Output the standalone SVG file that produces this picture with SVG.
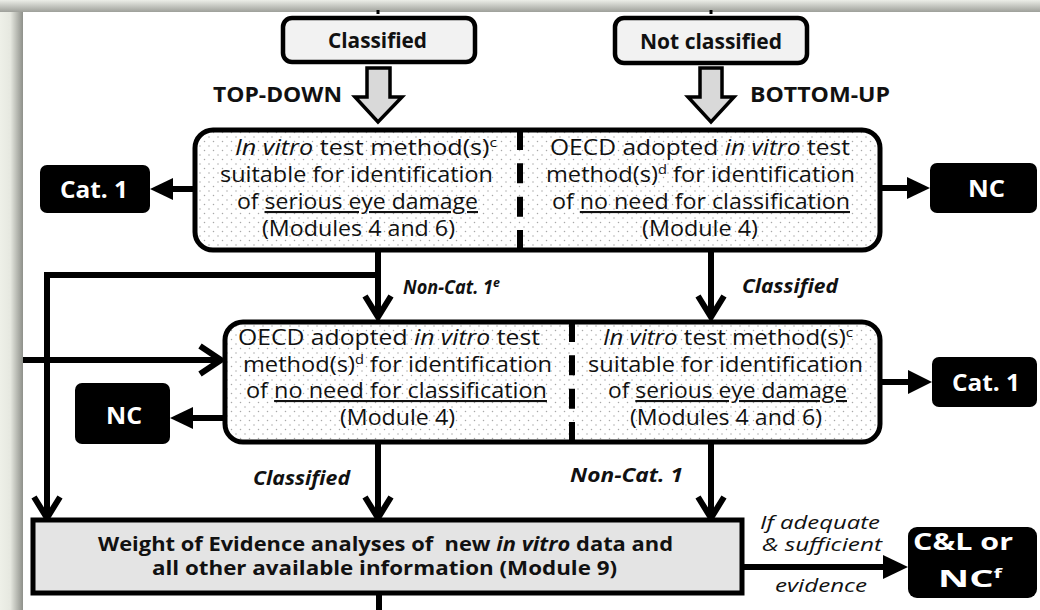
<svg xmlns="http://www.w3.org/2000/svg" width="1040" height="610" viewBox="0 0 1040 610">
<defs>
  <linearGradient id="gl" x1="0" y1="0" x2="1" y2="0">
    <stop offset="0" stop-color="#eef0e8"/>
    <stop offset="0.45" stop-color="#e6e8e0"/>
    <stop offset="1" stop-color="#8e908a"/>
  </linearGradient>
  <linearGradient id="gt" x1="0" y1="0" x2="0" y2="1">
    <stop offset="0" stop-color="#eceee8"/>
    <stop offset="1" stop-color="#9ea09a"/>
  </linearGradient>
  <pattern id="dots" width="9" height="9" patternUnits="userSpaceOnUse">
    <rect width="9" height="9" fill="#ffffff"/>
    <circle cx="2" cy="2" r="0.75" fill="#a8a8a8"/>
    <circle cx="6.5" cy="6.5" r="0.75" fill="#a8a8a8"/>
  </pattern>
  <style>
    .t { font-family: "Open Sans", "Liberation Sans", sans-serif; font-size: 21px; font-weight: 500; fill: #111; white-space: pre; }
    .b { font-weight: 700; }
    .i { font-style: italic; }
    .w { fill: #fff; font-weight: 700; font-size: 23px; }
    .lbl { font-weight: 700; font-style: italic; font-size: 19px; }
    .it { font-style: italic; font-size: 18px; font-weight: 400; }
    .wt { font-size: 19px; font-weight: 700; }
    .u { text-decoration: underline; }
    .sup { font-size: 13px; }
    .dbox { fill: url(#dots); stroke: #000; stroke-width: 5; }
    .lbox { fill: #f2f2f2; stroke: #000; stroke-width: 4.5; }
    .blk { fill: #000; }
    .hol { fill: #d9d9d9; stroke: #000; stroke-width: 3.5; stroke-linejoin: miter; }
    .div { stroke: #000; stroke-width: 6; stroke-dasharray: 20 13.33; }
    .c { stroke: #000; stroke-width: 6; fill: none; stroke-linejoin: miter; }
    .stub { stroke: #000; stroke-width: 3; }
    .h { fill: #000; }
  </style>
</defs>

<!-- frame -->
<rect x="0" y="0" width="1040" height="610" fill="#eef0e8"/>
<rect x="0" y="0" width="23" height="610" fill="url(#gl)"/>
<rect x="0" y="0" width="1040" height="12" fill="url(#gt)"/>
<rect x="23" y="12" width="1017" height="598" fill="#ffffff"/>

<g id="connectors">
  <line class="stub" x1="378" y1="10" x2="378" y2="14"/>
  <line class="stub" x1="711" y1="10" x2="711" y2="14"/>
  <!-- top box to Cat.1 -->
  <line class="c" x1="195" y1="189" x2="170" y2="189"/>
  <polygon class="h" points="150,189 173,178 173,200"/>
  <!-- top box to NC -->
  <line class="c" x1="880" y1="188" x2="910" y2="188"/>
  <polygon class="h" points="930,188 907,177 907,199"/>
  <!-- top box down left -->
  <line class="c" x1="378" y1="250" x2="378" y2="314"/>
  <path class="c" d="M365,296 L378,317 L391,296"/>
  <!-- branch to WoE -->
  <path class="c" d="M378,275 L47,275 L47,515"/>
  <path class="c" d="M34,497 L47,518 L60,497"/>
  <!-- incoming from left -->
  <line class="c" x1="23" y1="360" x2="218" y2="360"/>
  <path class="c" d="M200,346 L221,360 L200,374"/>
  <!-- top box down right -->
  <line class="c" x1="711" y1="250" x2="711" y2="314"/>
  <path class="c" d="M698,296 L711,317 L724,296"/>
  <!-- second box to NC left -->
  <line class="c" x1="225" y1="418" x2="190" y2="418"/>
  <polygon class="h" points="170,418 193,407 193,429"/>
  <!-- second box to Cat.1 right -->
  <line class="c" x1="880" y1="382" x2="910" y2="382"/>
  <polygon class="h" points="932,382 908,370 908,394"/>
  <!-- second box down -->
  <line class="c" x1="378" y1="442" x2="378" y2="515"/>
  <path class="c" d="M365,497 L378,518 L391,497"/>
  <line class="c" x1="711" y1="442" x2="711" y2="515"/>
  <path class="c" d="M698,497 L711,518 L724,497"/>
  <!-- WoE to C&L -->
  <line class="c" x1="742" y1="567" x2="886" y2="567"/>
  <polygon class="h" points="908,567 883,555 883,579"/>
  <!-- bottom -->
  <line class="c" x1="379" y1="593" x2="379" y2="610"/>
</g>

<g id="classified">
  <rect class="lbox" x="283" y="18" width="192" height="44" rx="9"/>
  <text class="t b" x="328" y="48" font-size="22" textLength="99" lengthAdjust="spacingAndGlyphs">Classified</text>
</g>
<g id="not-classified">
  <rect class="lbox" x="615" y="18" width="192" height="45" rx="9"/>
  <text class="t b" x="640" y="49" font-size="22" textLength="142" lengthAdjust="spacingAndGlyphs">Not classified</text>
</g>

<g id="top-down">
  <polygon class="hol" points="367,68 390,68 390,97 402,97 378,122 355,97 367,97"/>
  <text class="t b" x="213" y="102" font-size="21" textLength="129" lengthAdjust="spacingAndGlyphs">TOP-DOWN</text>
</g>
<g id="bottom-up">
  <polygon class="hol" points="700,68 722,68 722,97 734,97 711,122 688,97 700,97"/>
  <text class="t b" x="750" y="102" font-size="21" textLength="140" lengthAdjust="spacingAndGlyphs">BOTTOM-UP</text>
</g>

<g id="top-box">
  <rect class="dbox" x="195" y="130" width="685" height="120" rx="18"/>
  <line class="div" x1="520" y1="130" x2="520" y2="250"/>
  <text class="t" x="235" y="155" textLength="262" lengthAdjust="spacingAndGlyphs"><tspan class="i">In vitro</tspan> test method(s)<tspan class="sup" dy="-8">c</tspan></text>
  <text class="t" x="220" y="182" textLength="273" lengthAdjust="spacingAndGlyphs">suitable for identification</text>
  <text class="t" x="237" y="209" textLength="241" lengthAdjust="spacingAndGlyphs">of <tspan class="u">serious eye damage</tspan></text>
  <text class="t" x="262" y="236" textLength="193" lengthAdjust="spacingAndGlyphs">(Modules 4 and 6)</text>
  <text class="t" x="550" y="155" textLength="300" lengthAdjust="spacingAndGlyphs">OECD adopted <tspan class="i">in vitro</tspan> test</text>
  <text class="t" x="546" y="182" textLength="309" lengthAdjust="spacingAndGlyphs">method(s)<tspan class="sup" dy="-8">d</tspan><tspan dy="8"> for identification</tspan></text>
  <text class="t" x="552" y="209" textLength="298" lengthAdjust="spacingAndGlyphs">of <tspan class="u">no need for classification</tspan></text>
  <text class="t" x="642" y="236" textLength="116" lengthAdjust="spacingAndGlyphs">(Module 4)</text>
</g>

<g id="cat1-top">
  <rect class="blk" x="40" y="165" width="110" height="48" rx="7"/>
  <text class="t w" x="60" y="198" textLength="68" lengthAdjust="spacingAndGlyphs">Cat. 1</text>
</g>
<g id="nc-top">
  <rect class="blk" x="930" y="163" width="107" height="50" rx="7"/>
  <text class="t w" x="968" y="197" textLength="37" lengthAdjust="spacingAndGlyphs">NC</text>
</g>

<g id="labels-row1">
  <text class="t lbl" x="403" y="294" textLength="97" lengthAdjust="spacingAndGlyphs">Non-Cat. 1<tspan class="sup" dy="-7">e</tspan></text>
  <text class="t lbl" x="742" y="293" textLength="96" lengthAdjust="spacingAndGlyphs">Classified</text>
</g>

<g id="second-box">
  <rect class="dbox" x="225" y="322" width="655" height="120" rx="18"/>
  <line class="div" x1="572" y1="322" x2="572" y2="442"/>
  <text class="t" x="238" y="345" textLength="302" lengthAdjust="spacingAndGlyphs">OECD adopted <tspan class="i">in vitro</tspan> test</text>
  <text class="t" x="243" y="372" textLength="309" lengthAdjust="spacingAndGlyphs">method(s)<tspan class="sup" dy="-8">d</tspan><tspan dy="8"> for identification</tspan></text>
  <text class="t" x="246" y="398" textLength="301" lengthAdjust="spacingAndGlyphs">of <tspan class="u">no need for classification</tspan></text>
  <text class="t" x="340" y="425" textLength="115" lengthAdjust="spacingAndGlyphs">(Module 4)</text>
  <text class="t" x="603" y="345" textLength="250" lengthAdjust="spacingAndGlyphs"><tspan class="i">In vitro</tspan> test method(s)<tspan class="sup" dy="-8">c</tspan></text>
  <text class="t" x="588" y="372" textLength="275" lengthAdjust="spacingAndGlyphs">suitable for identification</text>
  <text class="t" x="608" y="398" textLength="239" lengthAdjust="spacingAndGlyphs">of <tspan class="u">serious eye damage</tspan></text>
  <text class="t" x="630" y="425" textLength="192" lengthAdjust="spacingAndGlyphs">(Modules 4 and 6)</text>
</g>

<g id="cat1-right">
  <rect class="blk" x="932" y="357" width="105" height="50" rx="7"/>
  <text class="t w" x="952" y="391" textLength="68" lengthAdjust="spacingAndGlyphs">Cat. 1</text>
</g>
<g id="nc-left">
  <rect class="blk" x="75" y="383" width="95" height="61" rx="7"/>
  <text class="t w" x="106" y="424" textLength="36" lengthAdjust="spacingAndGlyphs">NC</text>
</g>

<g id="labels-row2">
  <text class="t lbl" x="253" y="485" textLength="97" lengthAdjust="spacingAndGlyphs">Classified</text>
  <text class="t lbl" x="570" y="482" textLength="113" lengthAdjust="spacingAndGlyphs">Non-Cat. 1</text>
</g>

<g id="woe">
  <rect x="33" y="520" width="709" height="73" fill="#e4e4e4" stroke="#000" stroke-width="5"/>
  <text class="t wt" x="98" y="551" textLength="575" lengthAdjust="spacingAndGlyphs">Weight of Evidence analyses of  new <tspan class="i">in vitro</tspan> data and</text>
  <text class="t wt" x="152" y="575" textLength="465" lengthAdjust="spacingAndGlyphs">all other available information (Module 9)</text>
</g>

<g id="evidence-label">
  <text class="t it" x="760" y="529" textLength="120" lengthAdjust="spacingAndGlyphs">If adequate</text>
  <text class="t it" x="762" y="551" textLength="120" lengthAdjust="spacingAndGlyphs">&amp; sufficient</text>
  <text class="t it" x="775" y="592" textLength="92" lengthAdjust="spacingAndGlyphs">evidence</text>
</g>

<g id="cl-nc">
  <rect class="blk" x="908" y="527" width="129" height="71" rx="9"/>
  <text class="t w" x="913" y="550" textLength="100" lengthAdjust="spacingAndGlyphs">C&amp;L or</text>
  <text class="t w" x="938" y="587" textLength="64" lengthAdjust="spacingAndGlyphs">NC<tspan class="sup" dy="-9">f</tspan></text>
</g>
</svg>
